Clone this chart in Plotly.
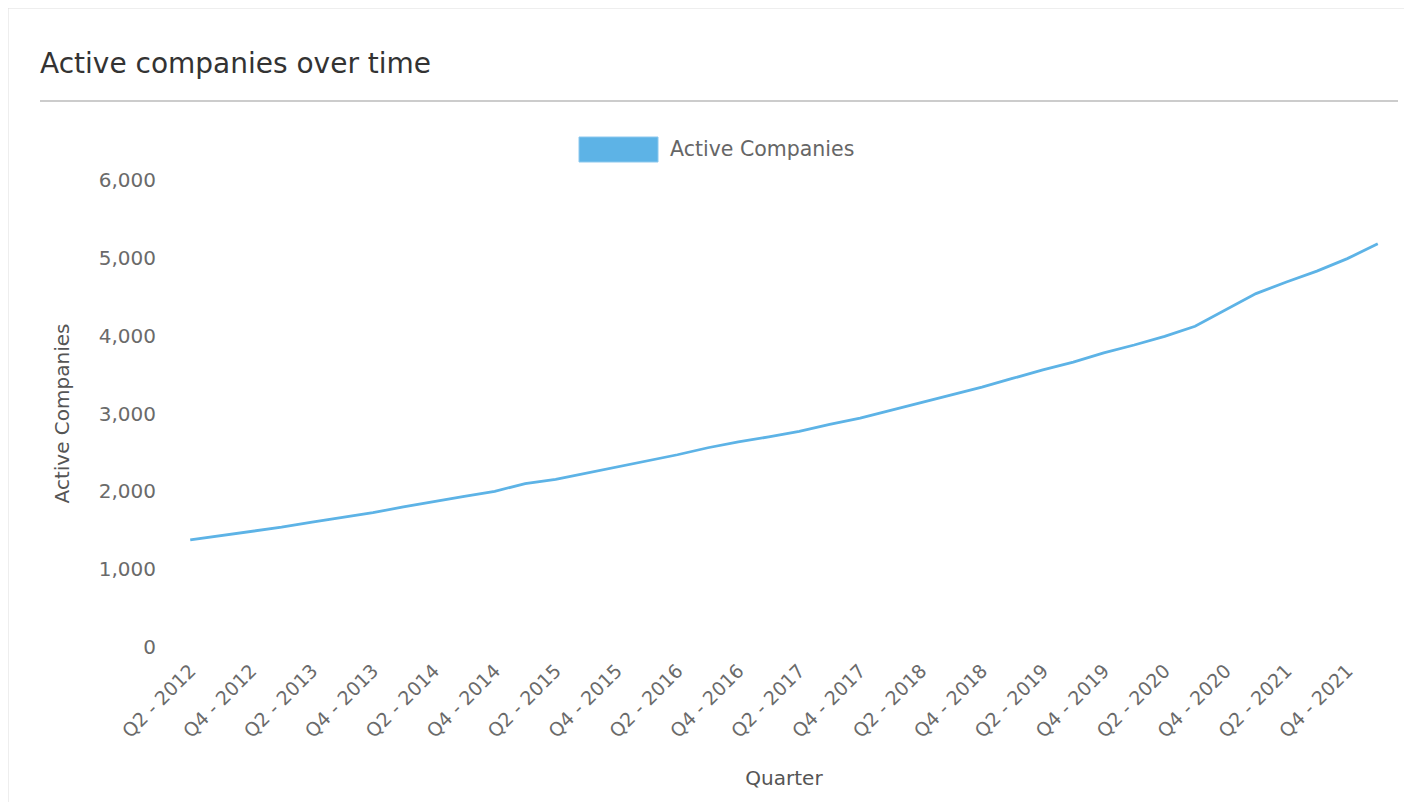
import plotly.graph_objects as go

quarters = []
for yr in range(2012, 2023):
    for q in range(1, 5):
        quarters.append(f"Q{q} - {yr}")
quarters = quarters[1:41]  # Q2 - 2012 .. Q1 - 2022

active_companies = [1375, 1430, 1485, 1540, 1605, 1665, 1725, 1800, 1870, 1935,
                    2000, 2100, 2155, 2235, 2315, 2390, 2470, 2560, 2635, 2700,
                    2770, 2860, 2940, 3040, 3140, 3240, 3340, 3450, 3560, 3660,
                    3780, 3880, 3990, 4120, 4330, 4540, 4690, 4830, 4990, 5180]

tick_labels = quarters[::2]

LINE = "#5DB3E6"
FONT = "DejaVu Sans"

OFF = 8  # page body margin
W, H = 1412 - OFF, 802 - OFF
L, R, T, B = 175 - OFF, 1393 - OFF, 180 - OFF, 647 - OFF


def px(x):
    return (x - OFF - L) / (R - L)


def py(y):
    return (B - (y - OFF)) / (B - T)


fig = go.Figure()
fig.add_trace(go.Scatter(x=quarters, y=active_companies, mode="lines",
                         name="Active Companies",
                         line=dict(color=LINE, width=2.8),
                         showlegend=False))

shapes = [
    dict(type="line", xref="paper", yref="paper", x0=px(8), x1=px(1412), y0=py(8), y1=py(8),
         line=dict(color="#dddddd", width=1)),
    dict(type="line", xref="paper", yref="paper", x0=px(8), x1=px(8), y0=py(8), y1=py(802),
         line=dict(color="#dddddd", width=1)),
    dict(type="line", xref="paper", yref="paper", x0=px(40), x1=px(1398), y0=py(101), y1=py(101),
         line=dict(color="#cccccc", width=2)),
    dict(type="rect", xref="paper", yref="paper", x0=px(579), x1=px(658), y0=py(162), y1=py(137),
         line=dict(color="#8cc8ee", width=1), fillcolor=LINE),
]

annotations = [
    dict(text="Active Companies", xref="paper", yref="paper", x=px(668), y=py(149),
         xanchor="left", yanchor="middle", showarrow=False,
         font=dict(family=FONT, size=20.5, color="#666666")),
]

fig.update_layout(
    width=W, height=H,
    margin=dict(l=L, r=W - R, t=T, b=H - B),
    paper_bgcolor="white", plot_bgcolor="white",
    title=dict(text="Active companies over time", xref="container", yref="container",
               x=(40 - OFF) / W, y=1 - (63 - OFF) / H, xanchor="left", yanchor="middle",
               font=dict(family=FONT, size=28, color="#333333")),
    font=dict(family=FONT, color="#666666"),
    shapes=shapes, annotations=annotations,
    showlegend=False,
)

fig.update_xaxes(
    type="category", range=[-0.5, len(quarters) - 0.5],
    tickmode="array", tickvals=tick_labels, ticktext=tick_labels,
    tickangle=-45, tickfont=dict(family=FONT, size=19, color="#6a6a6a"),
    showgrid=False, showline=False, zeroline=False, ticks="", ticklabelstandoff=8,
    title=dict(text="Quarter", font=dict(family=FONT, size=20, color="#555555"), standoff=30),
)
fig.update_yaxes(
    range=[0, 6000], tickvals=[0, 1000, 2000, 3000, 4000, 5000, 6000],
    tickformat=",", tickfont=dict(family=FONT, size=20, color="#6a6a6a"),
    showgrid=False, showline=False, zeroline=False, ticks="", ticklabelstandoff=18,
    title=dict(text="Active Companies", font=dict(family=FONT, size=20, color="#555555"), standoff=23),
)

fig.write_html("out.html")
